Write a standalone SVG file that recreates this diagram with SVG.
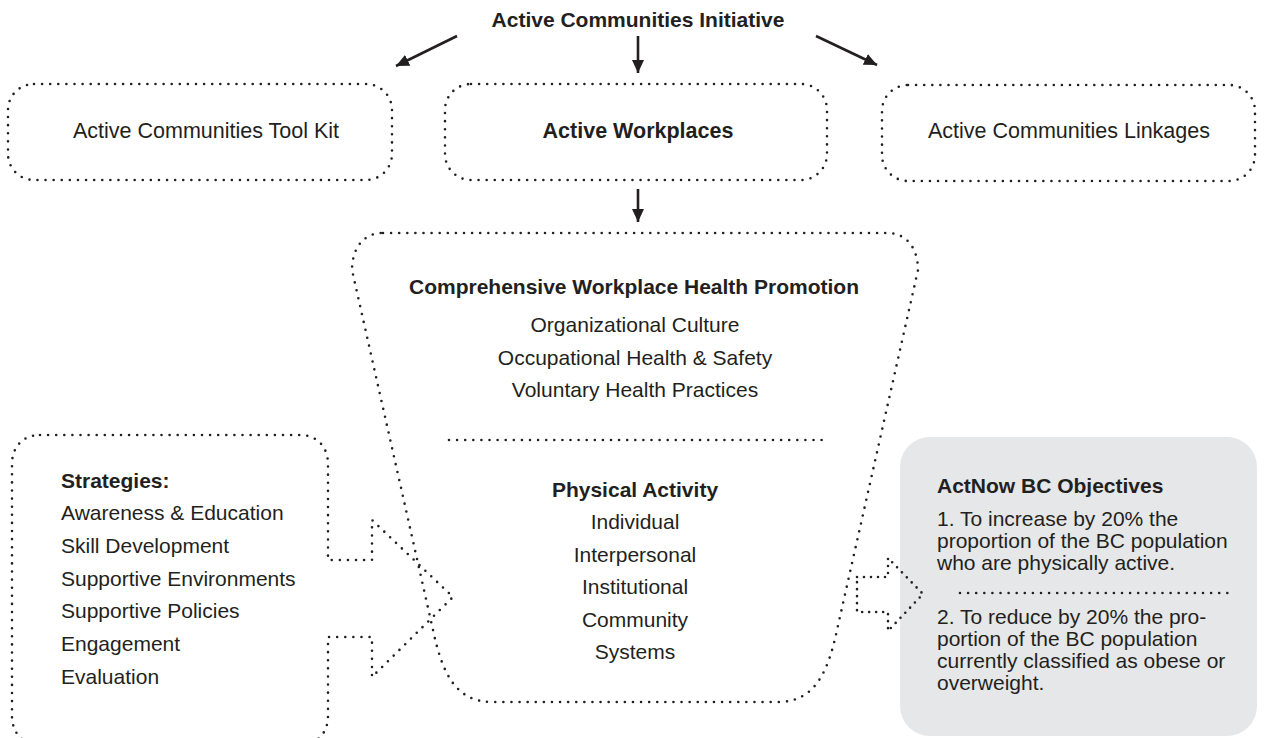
<svg xmlns="http://www.w3.org/2000/svg" width="1264" height="738" viewBox="0 0 1264 738">
<defs>
<style>
text{font-family:"Liberation Sans",Arial,Helvetica,sans-serif;font-size:21px;fill:#231f20}
.b{font-weight:bold}
.c{text-anchor:middle}
.t{font-size:21.5px}
.dot{fill:none;stroke:#231f20;stroke-width:2.6;stroke-linecap:round;stroke-dasharray:0 8.1}
.arr{fill:none;stroke:#231f20;stroke-width:2.6}
</style>
<marker id="ah" markerUnits="userSpaceOnUse" markerWidth="14" markerHeight="12" viewBox="0 0 14 12" refX="13" refY="6" orient="auto">
<path d="M0,0 L13,6 L0,12 Z" fill="#231f20"/>
</marker>
</defs>
<rect width="1264" height="738" fill="#fff"/>

<g id="title">
<text class="b c" x="638" y="27">Active Communities Initiative</text>
</g>

<g id="toolkit">
<rect class="dot" x="8" y="84" width="384" height="96" rx="26"/>
<text class="c t" x="206" y="138">Active Communities Tool Kit</text>
</g>

<g id="workplaces">
<rect class="dot" x="445" y="84" width="382" height="96" rx="26"/>
<text class="b c t" x="638" y="138">Active Workplaces</text>
</g>

<g id="linkages">
<rect class="dot" x="882" y="85" width="373" height="96" rx="26"/>
<text class="c t" x="1069" y="138">Active Communities Linkages</text>
</g>

<g id="promotion">
<path class="dot" d="M383,233 L887,233 C908,233 918,250 918,270 L837,630 C828,672 815,702 778,702 L492,702 C455,702 442,672 433,630 L352,270 C352,250 362,233 383,233 Z"/>
<text class="b c" x="634" y="294">Comprehensive Workplace Health Promotion</text>
<text class="c" x="635" y="332">Organizational Culture</text>
<text class="c" x="635" y="365">Occupational Health &amp; Safety</text>
<text class="c" x="635" y="397">Voluntary Health Practices</text>
<line class="dot" x1="449" y1="440" x2="822" y2="440"/>
<text class="b c" x="635" y="497">Physical Activity</text>
<text class="c" x="635" y="529">Individual</text>
<text class="c" x="635" y="562">Interpersonal</text>
<text class="c" x="635" y="594">Institutional</text>
<text class="c" x="635" y="627">Community</text>
<text class="c" x="635" y="659">Systems</text>
</g>

<g id="strategies">
<path class="dot" d="M40,435 L300,435 C317,435 328,447 328,464 L328,560 L372,560 L372,520 L453,597 L372,677 L372,637 L328,637 L328,716 C328,733 317,745 300,745 L40,745 C23,745 12,733 12,716 L12,464 C12,447 23,435 40,435 Z"/>
<text class="b" x="61" y="488">Strategies:</text>
<text x="61" y="520">Awareness &amp; Education</text>
<text x="61" y="553">Skill Development</text>
<text x="61" y="586">Supportive Environments</text>
<text x="61" y="618">Supportive Policies</text>
<text x="61" y="651">Engagement</text>
<text x="61" y="684">Evaluation</text>
</g>

<g id="objectives">
<rect x="900" y="437" width="357" height="299" rx="30" fill="#e6e7e8"/>
<text class="b" x="937" y="493">ActNow BC Objectives</text>
<text x="937" y="526">1. To increase by 20% the</text>
<text x="937" y="548">proportion of the BC population</text>
<text x="937" y="570">who are physically active.</text>
<line class="dot" x1="960" y1="593" x2="1228" y2="593"/>
<text x="937" y="624">2. To reduce by 20% the pro-</text>
<text x="937" y="646">portion of the BC population</text>
<text x="937" y="668">currently classified as obese or</text>
<text x="937" y="690">overweight.</text>
</g>

<g id="connectors">
<line class="arr" x1="457" y1="36" x2="396" y2="66" marker-end="url(#ah)"/>
<line class="arr" x1="638" y1="36" x2="638" y2="73" marker-end="url(#ah)"/>
<line class="arr" x1="816" y1="36" x2="877" y2="65" marker-end="url(#ah)"/>
<line class="arr" x1="638" y1="189" x2="638" y2="222" marker-end="url(#ah)"/>
<path class="dot" style="stroke-dasharray:0 7" d="M857,577 L888,577 L888,558 L923,594 L888,631 L888,612 L857,612 Z"/>
</g>
</svg>
